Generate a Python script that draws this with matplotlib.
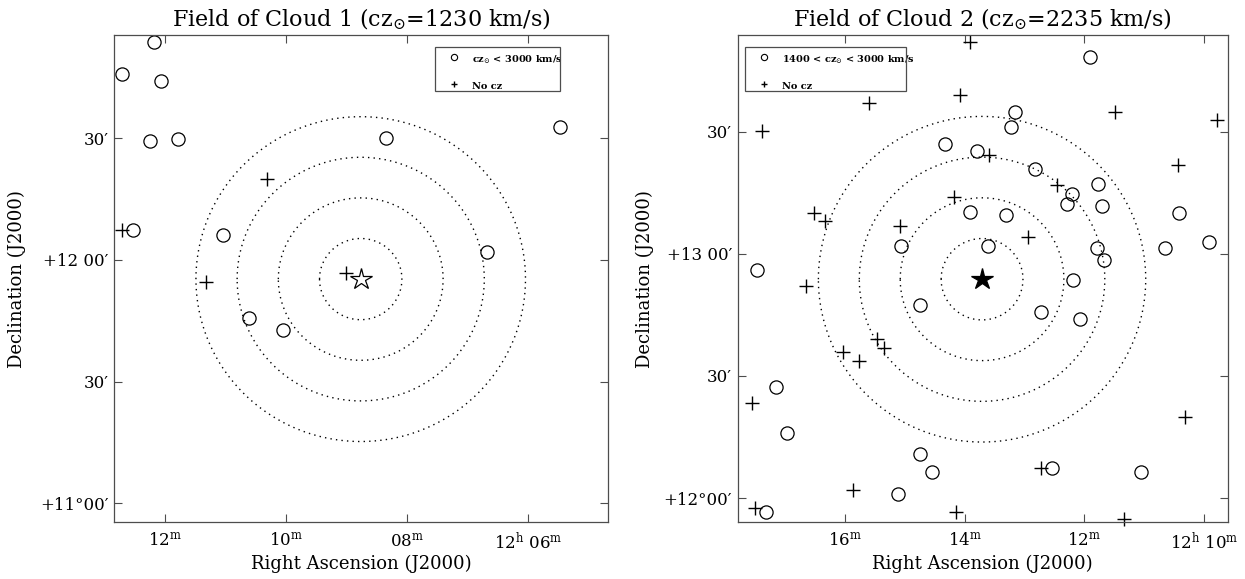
import numpy as np
import matplotlib.pyplot as plt

plt.rcParams['font.family'] = 'DejaVu Serif'
plt.rcParams['mathtext.fontset'] = 'dejavuserif'

# Cloud 1 field (RA in minutes past 12h, Dec in degrees)
c1_circ_ra = [12.186, 12.710, 12.073, 12.251, 11.777, 8.343, 5.462, 12.533, 11.041, 6.679, 10.607, 10.054]
c1_circ_dec = [12.895, 12.762, 12.735, 12.488, 12.495, 12.501, 12.546, 12.123, 12.104, 12.034, 11.761, 11.713]
c1_plus_ra = [10.317, 12.718, 11.329, 9.000]
c1_plus_dec = [12.331, 12.123, 11.911, 11.945]
c1_center = (8.763, 11.921)

# Cloud 2 field
c2_circ_ra = [11.900, 13.163, 13.230, 14.333, 13.789, 12.824, 11.767, 12.199, 12.293, 11.701,
              10.411, 13.908, 13.310, 15.065, 13.615, 11.781, 11.675, 10.650, 9.920, 17.470,
              12.185, 14.746, 12.718, 12.080, 17.145, 16.965, 14.738, 14.538, 12.544, 11.049,
              15.117, 17.318]
c2_circ_dec = [13.805, 13.581, 13.521, 13.450, 13.423, 13.347, 13.285, 13.245, 13.205, 13.194,
               13.169, 13.172, 13.158, 13.030, 13.033, 13.023, 12.973, 13.022, 13.048, 12.932,
               12.891, 12.790, 12.761, 12.735, 12.455, 12.266, 12.182, 12.105, 12.124, 12.105,
               12.018, 11.944]
c2_plus_ra = [13.908, 14.074, 15.595, 11.482, 9.787, 17.390, 13.589, 10.431, 12.459, 14.173,
              16.526, 16.327, 15.077, 12.943, 16.660, 15.470, 15.344, 16.034, 15.769, 17.549,
              10.319, 12.732, 15.868, 17.509, 14.140, 11.336]
c2_plus_dec = [13.869, 13.651, 13.619, 13.580, 13.548, 13.503, 13.404, 13.364, 13.281, 13.234,
               13.167, 13.136, 13.112, 13.070, 12.870, 12.651, 12.614, 12.598, 12.562, 12.389,
               12.332, 12.124, 12.034, 11.958, 11.941, 11.914]
c2_center = (13.709, 12.896)

radii = [10, 20, 30, 40]  # arcmin

c1_xticks = [12, 10, 8, 6]
c1_xlabels = [r'$\mathregular{12^m}$', r'$\mathregular{10^m}$', r'$\mathregular{08^m}$',
              r'$\mathregular{12^h\ 06^m}$']
c1_yticks = [11.0, 11.5, 12.0, 12.5]
c1_ylabels = ['+11°00′', '30′', '+12 00′', '30′']

c2_xticks = [16, 14, 12, 10]
c2_xlabels = [r'$\mathregular{16^m}$', r'$\mathregular{14^m}$', r'$\mathregular{12^m}$',
              r'$\mathregular{12^h\ 10^m}$']
c2_yticks = [12.0, 12.5, 13.0, 13.5]
c2_ylabels = ['+12°00′', '30′', '+13 00′', '30′']

fig = plt.figure(figsize=(12.45, 5.79), dpi=100)
ax1 = fig.add_axes([0.0916, 0.0976, 0.3968, 0.842])
ax2 = fig.add_axes([0.5925, 0.0976, 0.3938, 0.842])


def panel(ax, cra, cdec, pra, pdec, center, filled, xlim, ylim,
          xt, xl, yt, yl, title, leg_box, leg_text, ypad):
    ra0, dec0 = center
    t = np.linspace(0, 2 * np.pi, 500)
    for r in radii:
        ax.plot(ra0 + r * np.cos(t) / (15 * np.cos(np.radians(dec0))),
                dec0 + r / 60 * np.sin(t),
                color='black', lw=1.0, ls=(0, (1, 3)))
    ax.plot(cra, cdec, 'o', ms=9.5, mfc='none', mec='black', mew=0.9, clip_on=False)
    ax.plot(pra, pdec, '+', ms=10.5, color='black', mew=1.0, clip_on=False)
    ax.plot(ra0, dec0, '*', ms=16, mec='black', mew=0.9,
            mfc='black' if filled else 'white', zorder=5)
    ax.set_xlim(*xlim)
    ax.set_ylim(*ylim)
    ax.set_xticks(xt)
    ax.set_xticklabels(xl)
    ax.set_yticks(yt)
    ax.set_yticklabels(yl)
    ax.tick_params(direction='in', length=5.5, width=0.8, top=True, right=True,
                   labelsize=12, color='0.3')
    ax.tick_params(axis='x', pad=7)
    ax.tick_params(axis='y', pad=4)
    for s in ax.spines.values():
        s.set_color('0.3')
        s.set_linewidth(0.9)
    ax.set_xlabel('Right Ascension (J2000)', fontsize=13, labelpad=1)
    ax.set_ylabel('Declination (J2000)', fontsize=13, labelpad=ypad)
    ax.set_title(title, fontsize=16, pad=6)

    x0, x1, yb, ytop = leg_box
    ax.add_patch(plt.Rectangle((x0, yb), x1 - x0, ytop - yb, transform=ax.transAxes,
                               fill=False, ec='0.3', lw=0.9, zorder=6))
    mx = x0 + 0.038
    tx = x0 + 0.075
    ax.plot(mx, 0.955, 'o', ms=4.5, mfc='none', mec='black', mew=0.8,
            transform=ax.transAxes, zorder=7)
    ax.plot(mx, 0.899, '+', ms=5, color='black', mew=1.0,
            transform=ax.transAxes, zorder=7)
    ax.text(tx, 0.950, leg_text, fontsize=7, fontweight='bold',
            transform=ax.transAxes, va='center', ha='left')
    ax.text(tx, 0.894, 'No cz', fontsize=7, fontweight='bold',
            transform=ax.transAxes, va='center', ha='left')


panel(ax1, c1_circ_ra, c1_circ_dec, c1_plus_ra, c1_plus_dec, c1_center, False,
      (12.843, 4.672), (10.922, 12.923), c1_xticks, c1_xlabels, c1_yticks, c1_ylabels,
      r'Field of Cloud 1 (cz$_{\odot}$=1230 km/s)', (0.650, 0.902, 0.8845, 0.975),
      r'cz$_{\odot}$ < 3000 km/s', 10)
panel(ax2, c2_circ_ra, c2_circ_dec, c2_plus_ra, c2_plus_dec, c2_center, True,
      (17.794, 9.599), (11.900, 13.896), c2_xticks, c2_xlabels, c2_yticks, c2_ylabels,
      r'Field of Cloud 2 (cz$_{\odot}$=2235 km/s)', (0.0153, 0.3426, 0.8845, 0.975),
      r'1400 < cz$_{\odot}$ < 3000 km/s', 7)

fig.savefig('out.png', dpi=100)
